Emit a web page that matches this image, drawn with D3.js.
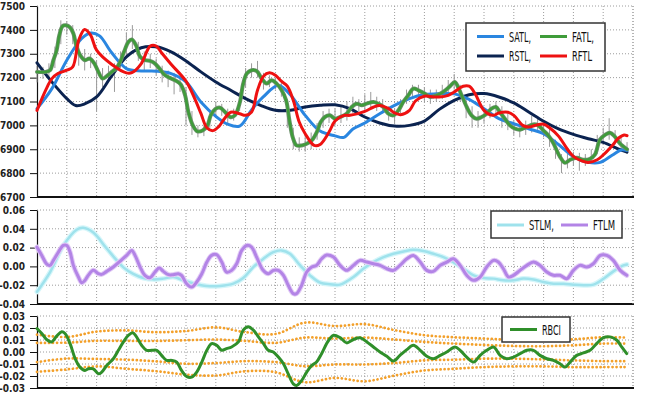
<!DOCTYPE html>
<html><head><meta charset="utf-8">
<script src="https://cdn.jsdelivr.net/npm/d3@7"></script>
<style>body{margin:0;background:#fff}svg{display:block}</style>
</head><body><svg id="c" width="650" height="393"></svg>
<script>
// ---------- DATA ----------
const priceTicks = [6700,6800,6900,7000,7100,7200,7300,7400,7500];
const momTicks = [-0.04,-0.02,0.00,0.02,0.04,0.06];
const rbciTicks = [-0.03,-0.02,-0.01,0.00,0.01,0.02,0.03];

const satl = [[0,7070],[5,7154],[10,7273],[15,7364],[18,7387],[21,7375],[25,7305],[30,7238],[35,7228],[40,7227],[45,7217],[50,7182],[55,7098],[60,7038],[64,7005],[68,6997],[72,7065],[76,7120],[81,7168],[85,7128],[90,7042],[95,6976],[100,6956],[103,6950],[106,6985],[110,7010],[115,7049],[120,7084],[125,7112],[130,7129],[135,7133],[140,7132],[145,7109],[150,7070],[155,7028],[160,7007],[165,6986],[170,6965],[175,6920],[180,6869],[185,6845],[189,6845],[193,6875],[196,6897],[198,6895]];
const rstl = [[0,7262],[5,7182],[10,7112],[13,7083],[16,7090],[20,7119],[25,7206],[30,7287],[35,7325],[40,7329],[45,7308],[50,7270],[55,7224],[60,7182],[65,7147],[70,7112],[75,7084],[80,7063],[85,7063],[90,7077],[95,7084],[100,7086],[105,7070],[110,7035],[115,7010],[120,6997],[125,7000],[130,7018],[135,7067],[140,7105],[145,7128],[150,7133],[155,7119],[160,7094],[165,7056],[170,7017],[175,6985],[180,6962],[185,6944],[190,6929],[195,6902],[198,6888]];
const rftl = [[0,7063],[3,7150],[5,7196],[7,7217],[10,7231],[12,7245],[14,7357],[16,7402],[18,7378],[20,7315],[25,7256],[30,7220],[32,7222],[35,7259],[38,7332],[40,7332],[42,7301],[45,7256],[50,7185],[53,7110],[55,7050],[57,6990],[59,6978],[61,6995],[63,7030],[65,7055],[68,7049],[70,7042],[72,7056],[74,7147],[76,7206],[78,7220],[80,7210],[82,7185],[84,7164],[86,7105],[88,7014],[90,6965],[93,6916],[95,6920],[98,6972],[100,7018],[103,7042],[105,7042],[110,7059],[113,7077],[115,7083],[118,7070],[120,7052],[122,7045],[125,7063],[127,7102],[130,7122],[133,7119],[135,7119],[138,7126],[140,7140],[143,7164],[145,7164],[147,7133],[150,7063],[153,7042],[155,7052],[158,7055],[160,7042],[163,7000],[165,6993],[168,7003],[170,7005],[172,6990],[175,6955],[178,6900],[180,6870],[183,6850],[185,6845],[188,6856],[190,6876],[193,6915],[195,6945],[197,6960],[198,6957]];
const fatl = [[0,7224],[3,7224],[4.4,7231],[5.5,7273],[6.6,7315],[7.5,7378],[8.6,7416],[9.7,7419],[11.1,7410],[12.2,7385],[13.3,7329],[14.7,7290],[16.1,7273],[17.6,7280],[19.1,7262],[20.6,7224],[22,7196],[23.4,7206],[25.1,7224],[26.5,7238],[27.9,7266],[29.2,7308],[30.7,7350],[31.8,7360],[33.2,7336],[34.6,7287],[36.3,7273],[37.9,7270],[39.3,7262],[41.1,7238],[42.6,7214],[44.4,7200],[46.3,7189],[48.2,7172],[49.7,7126],[50.8,7056],[52.3,7000],[53.8,6975],[55.6,6979],[57.2,7000],[58.3,7042],[59.8,7068],[61.4,7074],[63.1,7056],[64.8,7035],[66.4,7042],[68.1,7098],[69.2,7175],[70.4,7217],[72,7231],[73.7,7228],[75.4,7196],[77.1,7175],[78.7,7189],[80.4,7175],[82.1,7147],[83.6,7105],[84.7,7021],[85.8,6951],[87.1,6916],[88.8,6916],[90.5,6923],[92.2,6937],[93.9,6972],[95.2,7014],[96.6,7035],[98.3,7042],[100,7028],[101.7,7035],[103.9,7049],[105.6,7077],[107.3,7091],[109,7084],[110.6,7091],[112.9,7098],[114.5,7091],[116.2,7077],[117.9,7049],[119.6,7042],[121.3,7063],[122.9,7098],[124.6,7126],[126.3,7154],[128,7147],[130.2,7133],[131.9,7119],[134.1,7126],[136.3,7140],[138.6,7164],[140.2,7182],[141.4,7158],[142.5,7126],[144.2,7077],[145.8,7042],[147.5,7028],[149.2,7035],[150.9,7049],[152.5,7070],[154,7077],[155.3,7056],[157,7028],[158.7,7000],[160.4,6986],[162.1,6982],[164.3,6993],[166.5,7004],[168.2,7000],[169.9,6979],[171.6,6958],[173.2,6927],[175.5,6868],[177.2,6843],[178.9,6856],[181.2,6864],[183.2,6856],[185.6,6860],[187.2,6877],[188.9,6940],[190.6,6960],[192.3,6969],[193.9,6953],[195.6,6925],[198,6900]];
// price bars, one every 2 bars (index = 2*i)
const barHigh = [7250,7245,7260,7330,7440,7435,7420,7350,7320,7300,7270,7240,7250,7260,7310,7390,7420,7350,7310,7300,7280,7250,7230,7220,7200,7160,7060,7000,7000,7060,7100,7090,7070,7070,7140,7240,7260,7270,7220,7210,7200,7180,7110,6990,6950,6960,6970,7010,7060,7070,7070,7080,7100,7120,7110,7130,7140,7120,7110,7080,7070,7110,7150,7170,7170,7160,7150,7150,7170,7190,7215,7170,7120,7080,7060,7070,7090,7100,7080,7050,7020,7010,7020,7040,7030,7010,6990,6940,6880,6880,6890,6885,6880,6900,6960,6990,7030,6980,6950,6930];
const barLow  = [7180,7195,7200,7240,7340,7380,7340,7250,7230,7240,7060,7160,7180,7140,7240,7290,7320,7270,7230,7240,7210,7180,7160,7130,7140,7000,6960,6950,6955,6990,7040,7040,7010,7020,7060,7160,7200,7200,7150,7160,7150,7120,6990,6900,6890,6890,6900,6940,6990,7010,7000,7010,7020,7050,7060,7060,7070,7060,7050,7020,7010,7050,7090,7120,7110,7100,7090,7100,7110,7130,7150,7100,7030,6990,6990,7010,7030,7040,6990,6980,6960,6950,6960,6970,6970,6950,6910,6860,6800,6820,6830,6810,6830,6840,6880,6920,6940,6920,6890,6880];

const stlm = [[0,-0.027],[4.4,-0.006],[8.8,0.022],[13.3,0.039],[15.5,0.041],[18.9,0.036],[23.4,0.019],[29,-0.001],[32.3,-0.008],[35.7,-0.0124],[39,-0.0138],[42.4,-0.013],[45.7,-0.0113],[49.1,-0.0148],[52.5,-0.018],[56.9,-0.0208],[61.4,-0.0208],[65.9,-0.0184],[69.2,-0.0124],[72.6,-0.0007],[75.9,0.008],[79.3,0.0152],[82.1,0.017],[84.9,0.0134],[88.3,0.001],[91.6,-0.0095],[95,-0.0173],[98.3,-0.019],[101.7,-0.0194],[106.2,-0.0113],[109.5,-0.0025],[112.9,0.0046],[116.3,0.0099],[119.6,0.0134],[123,0.0159],[126.3,0.0177],[129.7,0.0163],[133,0.0134],[136.4,0.0099],[139.7,0.0046],[143.1,-0.0025],[146.5,-0.0095],[149.8,-0.0124],[153.2,-0.013],[156.5,-0.0148],[159.9,-0.0148],[163.2,-0.013],[166.6,-0.014],[170,-0.0166],[173.3,-0.0184],[176.7,-0.0184],[180,-0.0194],[183.4,-0.02],[186.7,-0.0194],[190.1,-0.0131],[193.4,-0.0053],[196.8,0.0011],[198,0.002]];
const ftlm = [[0,0.0205],[1.6,0.0117],[3.2,0.0028],[4.4,0.0011],[5.5,0.0064],[7.2,0.0152],[8.8,0.0223],[10,0.0223],[11.1,0.0152],[12.2,0.0011],[13.9,-0.0113],[15,-0.0173],[16.1,-0.0148],[17.2,-0.0095],[18.9,-0.0042],[20.6,-0.0078],[21.7,-0.0085],[23.4,-0.0053],[25.6,-0.0007],[27.8,0.0053],[30.1,0.0117],[31.8,0.017],[32.9,0.0117],[34.6,-0.0007],[36.2,-0.0095],[37.9,-0.012],[39.6,-0.006],[41,-0.0018],[42.4,-0.0053],[44.1,-0.0088],[45.7,-0.0088],[47.4,-0.0078],[48.5,-0.0095],[50.2,-0.0184],[51.9,-0.022],[53.6,-0.0166],[55.3,-0.0078],[57,0.0046],[58.6,0.0117],[60.3,0.0124],[62,0.0046],[63.6,-0.006],[65.3,-0.0042],[67,0.0028],[68.7,0.017],[70.4,0.0223],[72,0.0205],[73.7,0.0099],[75.9,-0.0042],[77.6,-0.0078],[79.3,-0.0042],[81,-0.0042],[82.7,-0.0095],[84.3,-0.0201],[86,-0.029],[87.1,-0.029],[88.8,-0.0201],[90.5,-0.006],[92.2,-0.0007],[93.8,0.0011],[95.5,0.0081],[97.2,0.0121],[99.5,0.0099],[101.7,0.0011],[103.9,-0.0042],[106.2,0.0011],[108.4,0.0064],[110.7,0.0046],[112.9,0.0028],[115.1,0.0011],[117.4,-0.0025],[119.6,-0.0042],[121.8,0.0011],[124.1,0.0081],[126.3,0.0117],[128.6,0.0046],[130.8,-0.0042],[133,-0.0053],[135.3,0.0011],[137.5,0.0046],[139.7,0.0081],[142,0.0011],[144.2,-0.0095],[146.5,-0.0148],[148.7,-0.0113],[150.9,-0.0007],[153.2,0.0064],[154.8,0.0046],[156.5,-0.0025],[158.2,-0.0113],[159.9,-0.0095],[162.1,-0.0042],[164.4,0.0011],[166.6,0.0046],[168.8,0.0011],[171.1,-0.006],[173.3,-0.0095],[175.5,-0.0095],[177.8,-0.013],[180,-0.0042],[182.2,0.0011],[184.5,-0.0007],[186.7,0.0028],[189,0.0117],[191.2,0.0117],[193.4,0.0064],[195.7,-0.0042],[197.9,-0.0095]];

const rbci = [[0,0.0196],[1.6,0.0154],[3.2,0.0104],[4.9,0.0084],[6.6,0.0132],[8.3,0.0168],[9.4,0.0154],[11.1,0.007],[12.8,-0.0056],[14.4,-0.0126],[16.1,-0.0154],[17.2,-0.014],[18.9,-0.014],[20.6,-0.0182],[21.7,-0.0168],[23.4,-0.0112],[25.6,-0.0056],[27.3,0.0014],[29,0.0084],[30.7,0.014],[32.1,0.016],[33.4,0.0126],[35.1,0.0056],[36.8,0.0014],[38.5,0.0014],[40.2,0.0014],[41.8,-0.0028],[43.5,-0.007],[45.2,-0.007],[46.9,-0.0084],[48.5,-0.0154],[50.2,-0.0204],[51.9,-0.021],[53.6,-0.0168],[55.3,-0.0084],[57,0.0014],[58.6,0.007],[60.3,0.0056],[62,0.0014],[63.6,0.0028],[65.3,0.0042],[67.6,0.0084],[69.2,0.0182],[70.9,0.021],[72.6,0.0182],[74.3,0.0126],[76,0.007],[77.6,0.0014],[79.3,0],[81,-0.0042],[82.7,-0.0098],[84.3,-0.0182],[86,-0.0266],[87.1,-0.028],[88.8,-0.0238],[90.5,-0.0168],[92.2,-0.0112],[93.8,-0.0084],[95.5,-0.0014],[97.2,0.007],[98.3,0.0112],[99.5,0.014],[101.7,0.012],[103.9,0.0076],[106.2,0.0104],[108.4,0.0118],[110.7,0.0084],[112.9,0.0042],[115.1,0],[117.4,-0.0036],[119.6,-0.0076],[121.8,-0.0028],[124.1,0.002],[126.3,0.0056],[128.6,0.0014],[130.8,-0.0036],[133,-0.0056],[135.3,-0.0028],[137.5,0],[140.3,0.0042],[142,0.0014],[144.2,-0.0042],[146.5,-0.0084],[148.7,-0.0028],[150.9,0.0014],[153.2,0.0042],[155.4,-0.0028],[157.6,-0.0056],[159.9,-0.0042],[162.1,-0.0014],[164.4,0.0014],[166.6,0.0014],[168.8,-0.0028],[171.1,-0.0056],[173.3,-0.007],[175.5,-0.0098],[177.2,-0.0126],[178.9,-0.0084],[181.1,-0.0028],[183.4,-0.0008],[185.6,0.0014],[187.8,0.007],[190.1,0.012],[192.3,0.0126],[194.6,0.0098],[196.2,0.0042],[197.9,-0.0014]];
const bandIdx  = [0,10,20,30,40,50,60,70,80,90,100,110,120,130,140,150,160,170,180,190,198];
const bandUp2  = [0.0145,0.0125,0.017,0.018,0.0165,0.0175,0.0205,0.0165,0.015,0.0245,0.0216,0.0232,0.0182,0.014,0.0123,0.0112,0.0101,0.0098,0.0106,0.0123,0.012];
const bandUp1  = [0.0076,0.0078,0.0093,0.0092,0.0092,0.0098,0.0104,0.0092,0.0076,0.012,0.0112,0.012,0.0104,0.0084,0.007,0.0059,0.005,0.0048,0.0056,0.007,0.007];
const bandDn1  = [-0.0084,-0.0055,-0.0058,-0.0064,-0.0078,-0.0098,-0.0092,-0.0076,-0.0084,-0.0118,-0.0104,-0.0104,-0.0092,-0.007,-0.0064,-0.0056,-0.0056,-0.0062,-0.007,-0.0076,-0.0076];
const bandDn2  = [-0.0165,-0.0145,-0.012,-0.014,-0.016,-0.0188,-0.0196,-0.016,-0.0168,-0.0252,-0.0216,-0.0244,-0.0196,-0.0154,-0.014,-0.0126,-0.012,-0.012,-0.0126,-0.0126,-0.0126];

// ---------- DRAWING ----------
const svg = d3.select('#c');
const L = 37, R = 633;
const x = d3.scaleLinear().domain([0,200]).range([L,R]);
const y1 = d3.scaleLinear().domain([6700,7500]).range([197,6]);
const y2 = d3.scaleLinear().domain([-0.04,0.06]).range([304,210]);
const y3 = d3.scaleLinear().domain([-0.03,0.03]).range([388,316]);
const gridIdx = x.ticks(20).filter(d => d > 0);
const FONT = "'Liberation Sans Narrow','DejaVu Sans Condensed',sans-serif";

function panel(y, ticks, fmt) {
  const g = svg.append('g');
  const [yb, yt] = y.range();
  g.selectAll('line.h').data(ticks).join('line').attr('class','h')
    .attr('x1', L).attr('x2', R).attr('y1', d => y(d)).attr('y2', d => y(d))
    .attr('stroke', '#9c9c9c').attr('stroke-width', 1).attr('stroke-dasharray', '1,2');
  g.selectAll('line.v').data(gridIdx).join('line').attr('class','v')
    .attr('x1', d => x(d)).attr('x2', d => x(d)).attr('y1', yt).attr('y2', yb)
    .attr('stroke', '#9c9c9c').attr('stroke-width', 1).attr('stroke-dasharray', '1,2');
  const ax = d3.axisLeft(y).tickValues(ticks).tickSize(7).tickSizeOuter(0).tickPadding(5).tickFormat(fmt);
  const a = g.append('g').attr('transform', `translate(${L},0)`).call(ax);
  a.select('.domain').attr('stroke', '#111').attr('stroke-width', 1.2);
  a.selectAll('.tick line').attr('stroke', '#111');
  a.selectAll('.tick text').attr('font-family', FONT).attr('font-weight', 'bold')
    .attr('font-size', 10).attr('fill', '#222');
  return g;
}
function bottomLine(y) {
  svg.append('line').attr('x1', L).attr('x2', R + 1).attr('y1', y.range()[0]).attr('y2', y.range()[0])
    .attr('stroke', '#111').attr('stroke-width', 2);
}
const curve = d3.curveCatmullRom.alpha(0.5);
function drawLine(g, y, data, color, w, extra) {
  const p = g.append('path').datum(data)
    .attr('d', d3.line().x(d => x(d[0])).y(d => y(d[1])).curve(curve))
    .attr('fill', 'none').attr('stroke', color).attr('stroke-width', w)
    .attr('stroke-linejoin', 'round').attr('stroke-linecap', 'round');
  if (extra) extra(p);
  return p;
}

// Panel 1
const g1 = panel(y1, priceTicks, d => d3.format('d')(d));
g1.selectAll('line.bar').data(barHigh).join('line').attr('class','bar')
  .attr('x1', (d,i) => x(2*i)).attr('x2', (d,i) => x(2*i))
  .attr('y1', d => y1(d)).attr('y2', (d,i) => y1(barLow[i]))
  .attr('stroke', '#9a9a9a').attr('stroke-width', 1);
drawLine(g1, y1, rstl, '#0b2350', 3);
drawLine(g1, y1, satl, '#2a86e0', 3);
drawLine(g1, y1, fatl, '#6a8f6a', 4);
drawLine(g1, y1, fatl, '#3f9c3a', 2.4);
drawLine(g1, y1, rftl, '#ee1111', 3);
bottomLine(y1);

// Panel 2
const g2 = panel(y2, momTicks, d => d.toFixed(2));
drawLine(g2, y2, stlm, '#d6f6fa', 5);
drawLine(g2, y2, stlm, '#9fe2ec', 2.5);
drawLine(g2, y2, ftlm, '#e2ccf6', 5);
drawLine(g2, y2, ftlm, '#b384e6', 3);
bottomLine(y2);

// Panel 3
const g3 = panel(y3, rbciTicks, d => d.toFixed(2));
[bandUp2, bandUp1, bandDn1, bandDn2].forEach(b => {
  drawLine(g3, y3, bandIdx.map((v,i) => [v, b[i]]), '#f3a02a', 2.7,
    p => p.attr('stroke-dasharray', '0.1,3.9'));
});
drawLine(g3, y3, rbci, '#2f8f2a', 3);
bottomLine(y3);

// right border dotted
svg.append('g').selectAll('line').data([y1, y2, y3]).join('line')
  .attr('x1', R).attr('x2', R).attr('y1', d => d.range()[1]).attr('y2', d => d.range()[0])
  .attr('stroke', '#9c9c9c').attr('stroke-dasharray', '1,2');

// Legends
function legend(box, items) {
  const g = svg.append('g');
  g.append('rect').attr('x', box[0]).attr('y', box[1]).attr('width', box[2]).attr('height', box[3])
    .attr('fill', '#fff').attr('stroke', '#333').attr('stroke-width', 1.5);
  items.forEach(it => {
    g.append('line').attr('x1', it.lx).attr('x2', it.lx + 27).attr('y1', it.ly).attr('y2', it.ly)
      .attr('stroke', it.color).attr('stroke-width', 3);
    g.append('text').attr('x', it.tx).attr('y', it.ly + 5).text(it.name)
      .attr('font-family', FONT).attr('font-size', 14).attr('fill', '#111')
      .attr('textLength', it.tw).attr('lengthAdjust', 'spacingAndGlyphs');
  });
}
legend([466, 23, 139, 48], [
  {name: 'SATL,', color: '#2a86e0', lx: 477, ly: 36.5, tx: 509, tw: 22},
  {name: 'FATL,', color: '#3f9c3a', lx: 540, ly: 36.5, tx: 572, tw: 22},
  {name: 'RSTL,', color: '#0b2350', lx: 477, ly: 56, tx: 509, tw: 22},
  {name: 'RFTL', color: '#ee1111', lx: 540, ly: 56, tx: 572, tw: 20}
]);
legend([491, 211, 131, 27], [
  {name: 'STLM,', color: '#9fe2ec', lx: 497, ly: 225, tx: 529, tw: 25},
  {name: 'FTLM', color: '#b384e6', lx: 561, ly: 225, tx: 593, tw: 22}
]);
legend([502, 317, 68, 25], [
  {name: 'RBCI', color: '#2f8f2a', lx: 510, ly: 329.5, tx: 542, tw: 19}
]);
</script></body></html>
